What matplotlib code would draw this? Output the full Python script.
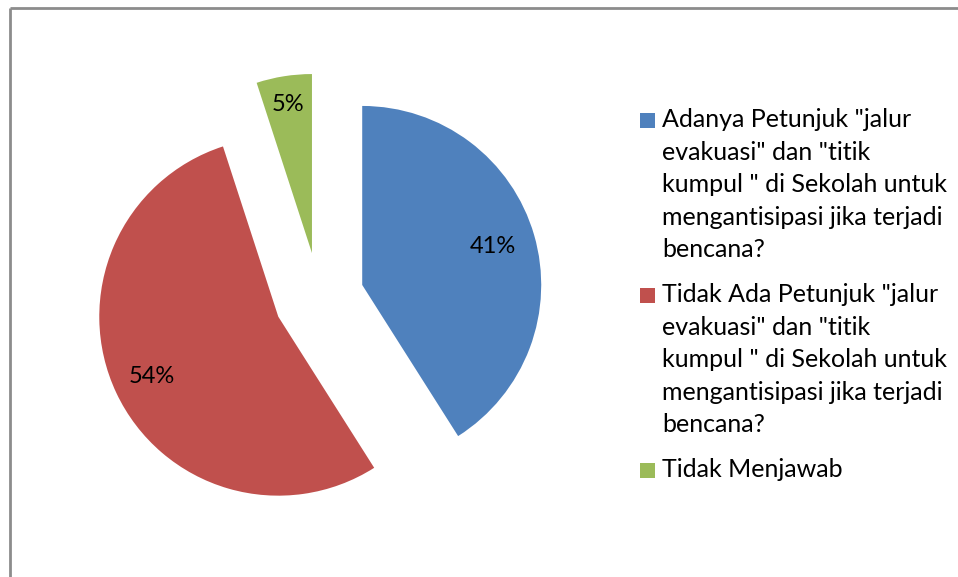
import numpy as np
import matplotlib.pyplot as plt
from matplotlib.patches import Rectangle

W_PX, H_PX = 958, 577

# data
labels = [
    'Adanya Petunjuk "jalur\nevakuasi" dan "titik\nkumpul " di Sekolah untuk\nmengantisipasi jika terjadi\nbencana?',
    'Tidak Ada Petunjuk "jalur\nevakuasi" dan "titik\nkumpul " di Sekolah untuk\nmengantisipasi jika terjadi\nbencana?',
    'Tidak Menjawab',
]
values = [41, 54, 5]
colors = ['#4F81BD', '#C0504D', '#9BBB59']
label_dist = [0.76, 0.78, 0.84]

plt.rcParams['font.family'] = ['Lato', 'DejaVu Sans']

fig = plt.figure(figsize=(W_PX / 100, H_PX / 100), dpi=100)
ax = fig.add_axes([0, 0, 1, 1])
ax.set_xlim(0, W_PX)
ax.set_ylim(0, H_PX)
ax.set_aspect('equal')
ax.axis('off')

def Y(y):
    # image row -> data y
    return H_PX - y

# border (top and left visible)
ax.plot([10, W_PX], [Y(8), Y(8)], color='#8c8c8c', lw=2, solid_capstyle='butt')
ax.plot([10, 10], [Y(8), 0], color='#8c8c8c', lw=2, solid_capstyle='butt')

R = 179
wedges, texts, autotexts = ax.pie(
    values, colors=colors, center=(319, Y(297.5)), radius=R,
    explode=[45, 45, 45], startangle=90, counterclock=False,
    autopct='%d%%', pctdistance=0.8,
    textprops=dict(fontsize=17, color='#000000'),
    wedgeprops=dict(linewidth=0),
)
# nudge percentage labels per slice
for w, t, d in zip(wedges, autotexts, label_dist):
    ang = np.deg2rad((w.theta1 + w.theta2) / 2)
    cx, cy = w.center
    t.set_position((cx + d * R * np.cos(ang), cy + d * R * np.sin(ang)))

ax.set_xlim(0, W_PX)
ax.set_ylim(0, H_PX)

# legend
line_h = 32.6
gap = 44.6
base = 127
for lab, col in zip(labels, colors):
    lines = lab.split('\n')
    ax.add_patch(Rectangle((640, Y(base + 1)), 15, 15, facecolor=col, edgecolor='none'))
    for i, ln in enumerate(lines):
        ax.text(662, Y(base + i * line_h), ln, fontsize=18, va='baseline', ha='left',
                color='#000000')
    base += (len(lines) - 1) * line_h + gap

fig.savefig('out.png', dpi=100)
